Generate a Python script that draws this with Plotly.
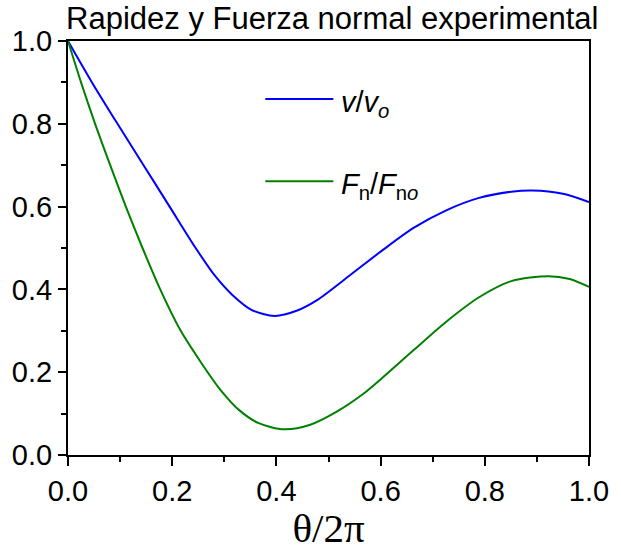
import plotly.graph_objects as go

# Data
theta_v = [0.0, 0.046, 0.095, 0.145, 0.195, 0.245, 0.282, 0.316, 0.353, 0.397,
           0.440, 0.478, 0.540, 0.602, 0.664, 0.726, 0.789, 0.851, 0.891, 0.950, 1.0]
v_ratio = [1.0, 0.9, 0.8, 0.7, 0.6, 0.5, 0.433, 0.386, 0.350, 0.336,
           0.349, 0.374, 0.433, 0.493, 0.549, 0.591, 0.621, 0.636, 0.639, 0.631, 0.611]

theta_f = [0.0, 0.025, 0.052, 0.081, 0.111, 0.143, 0.177, 0.215, 0.254, 0.291, 0.328,
           0.366, 0.415, 0.465, 0.515, 0.565, 0.602, 0.664, 0.726, 0.789, 0.851,
           0.922, 0.963, 1.0]
f_ratio = [1.0, 0.9, 0.8, 0.7, 0.6, 0.5, 0.4, 0.303, 0.226, 0.160, 0.109,
           0.077, 0.062, 0.073, 0.104, 0.146, 0.185, 0.254, 0.322, 0.381, 0.420,
           0.432, 0.425, 0.406]

tick_vals = [0.0, 0.2, 0.4, 0.6, 0.8, 1.0]
tick_text = ["0.0", "0.2", "0.4", "0.6", "0.8", "1.0"]

title_text = "Rapidez y Fuerza normal experimental"
x_title = "θ/2π"
legend_v = "<i>v</i>/<i>v</i><sub><i>o</i></sub>"
legend_f = "<i>F</i><sub>n</sub>/<i>F</i><sub>n<i>o</i></sub>"

BLUE = "#0000FF"
GREEN = "#008000"
SANS = "Liberation Sans, Arial, sans-serif"

fig = go.Figure()
fig.add_trace(go.Scatter(x=theta_v, y=v_ratio, mode="lines", name="v/vo",
                         line=dict(color=BLUE, width=2, shape="spline", smoothing=0.8),
                         showlegend=False))
fig.add_trace(go.Scatter(x=theta_f, y=f_ratio, mode="lines", name="Fn/Fno",
                         line=dict(color=GREEN, width=2, shape="spline", smoothing=0.8),
                         showlegend=False))

axis_common = dict(range=[0, 1], showgrid=False, zeroline=False,
                   linecolor="#000000", linewidth=2,
                   tickcolor="#000000", tickwidth=2,
                   tickvals=tick_vals, ticktext=tick_text)

fig.update_layout(
    width=621, height=551,
    margin=dict(l=64, r=21, t=41, b=88, pad=0),
    paper_bgcolor="white", plot_bgcolor="white",
    font=dict(family=SANS, color="#000000", size=28),
    title=dict(text=title_text, x=0.535, xanchor="center", y=0.967, yanchor="middle",
               font=dict(family=SANS, size=31, color="#000000")),
    xaxis=dict(**axis_common, ticks="outside", ticklen=9, mirror=True,
               tickfont=dict(family=SANS, size=29),
               minor=dict(dtick=0.1, ticks="outside", ticklen=5, tickwidth=2, tickcolor="#000000"),
               title=dict(text=x_title, font=dict(family="Liberation Serif, Times New Roman, serif", size=41),
                          standoff=4)),
    yaxis=dict(**axis_common, ticks="outside", ticklen=8, mirror=True,
               tickfont=dict(family=SANS, size=29),
               minor=dict(dtick=0.1, ticks="outside", ticklen=5, tickwidth=2, tickcolor="#000000")),
    xaxis2=dict(range=[0, 1], overlaying="x", side="top", anchor="y", showgrid=False, zeroline=False,
                showline=False, ticks="inside", ticklen=7, tickwidth=2, tickcolor="#000000",
                tickvals=tick_vals, showticklabels=False,
                minor=dict(dtick=0.1, ticks="inside", ticklen=6, tickwidth=2, tickcolor="#000000")),
    yaxis2=dict(range=[0, 1], overlaying="y", side="right", anchor="x", showgrid=False, zeroline=False,
                showline=False, ticks="inside", ticklen=8, tickwidth=2, tickcolor="#000000",
                tickvals=tick_vals, showticklabels=False,
                minor=dict(dtick=0.1, ticks="inside", ticklen=8, tickwidth=2, tickcolor="#000000")),
)

# Legend drawn as line samples + labels (paper coordinates)
def px_x(px):
    return (px - 64) / 536.0

def px_y(py):
    return 1 - (py - 41) / 422.0

for py, col, txt in [(100, BLUE, legend_v), (184, GREEN, legend_f)]:
    fig.add_shape(type="line", xref="paper", yref="paper",
                  x0=px_x(267), x1=px_x(337), y0=px_y(py), y1=px_y(py),
                  line=dict(color=col, width=2))
    fig.add_annotation(xref="paper", yref="paper", x=px_x(343), y=px_y(py + 5),
                       xanchor="left", yanchor="middle", text=txt, showarrow=False,
                       font=dict(family=SANS, size=29, color="#000000"))

fig.write_html("out.html")
